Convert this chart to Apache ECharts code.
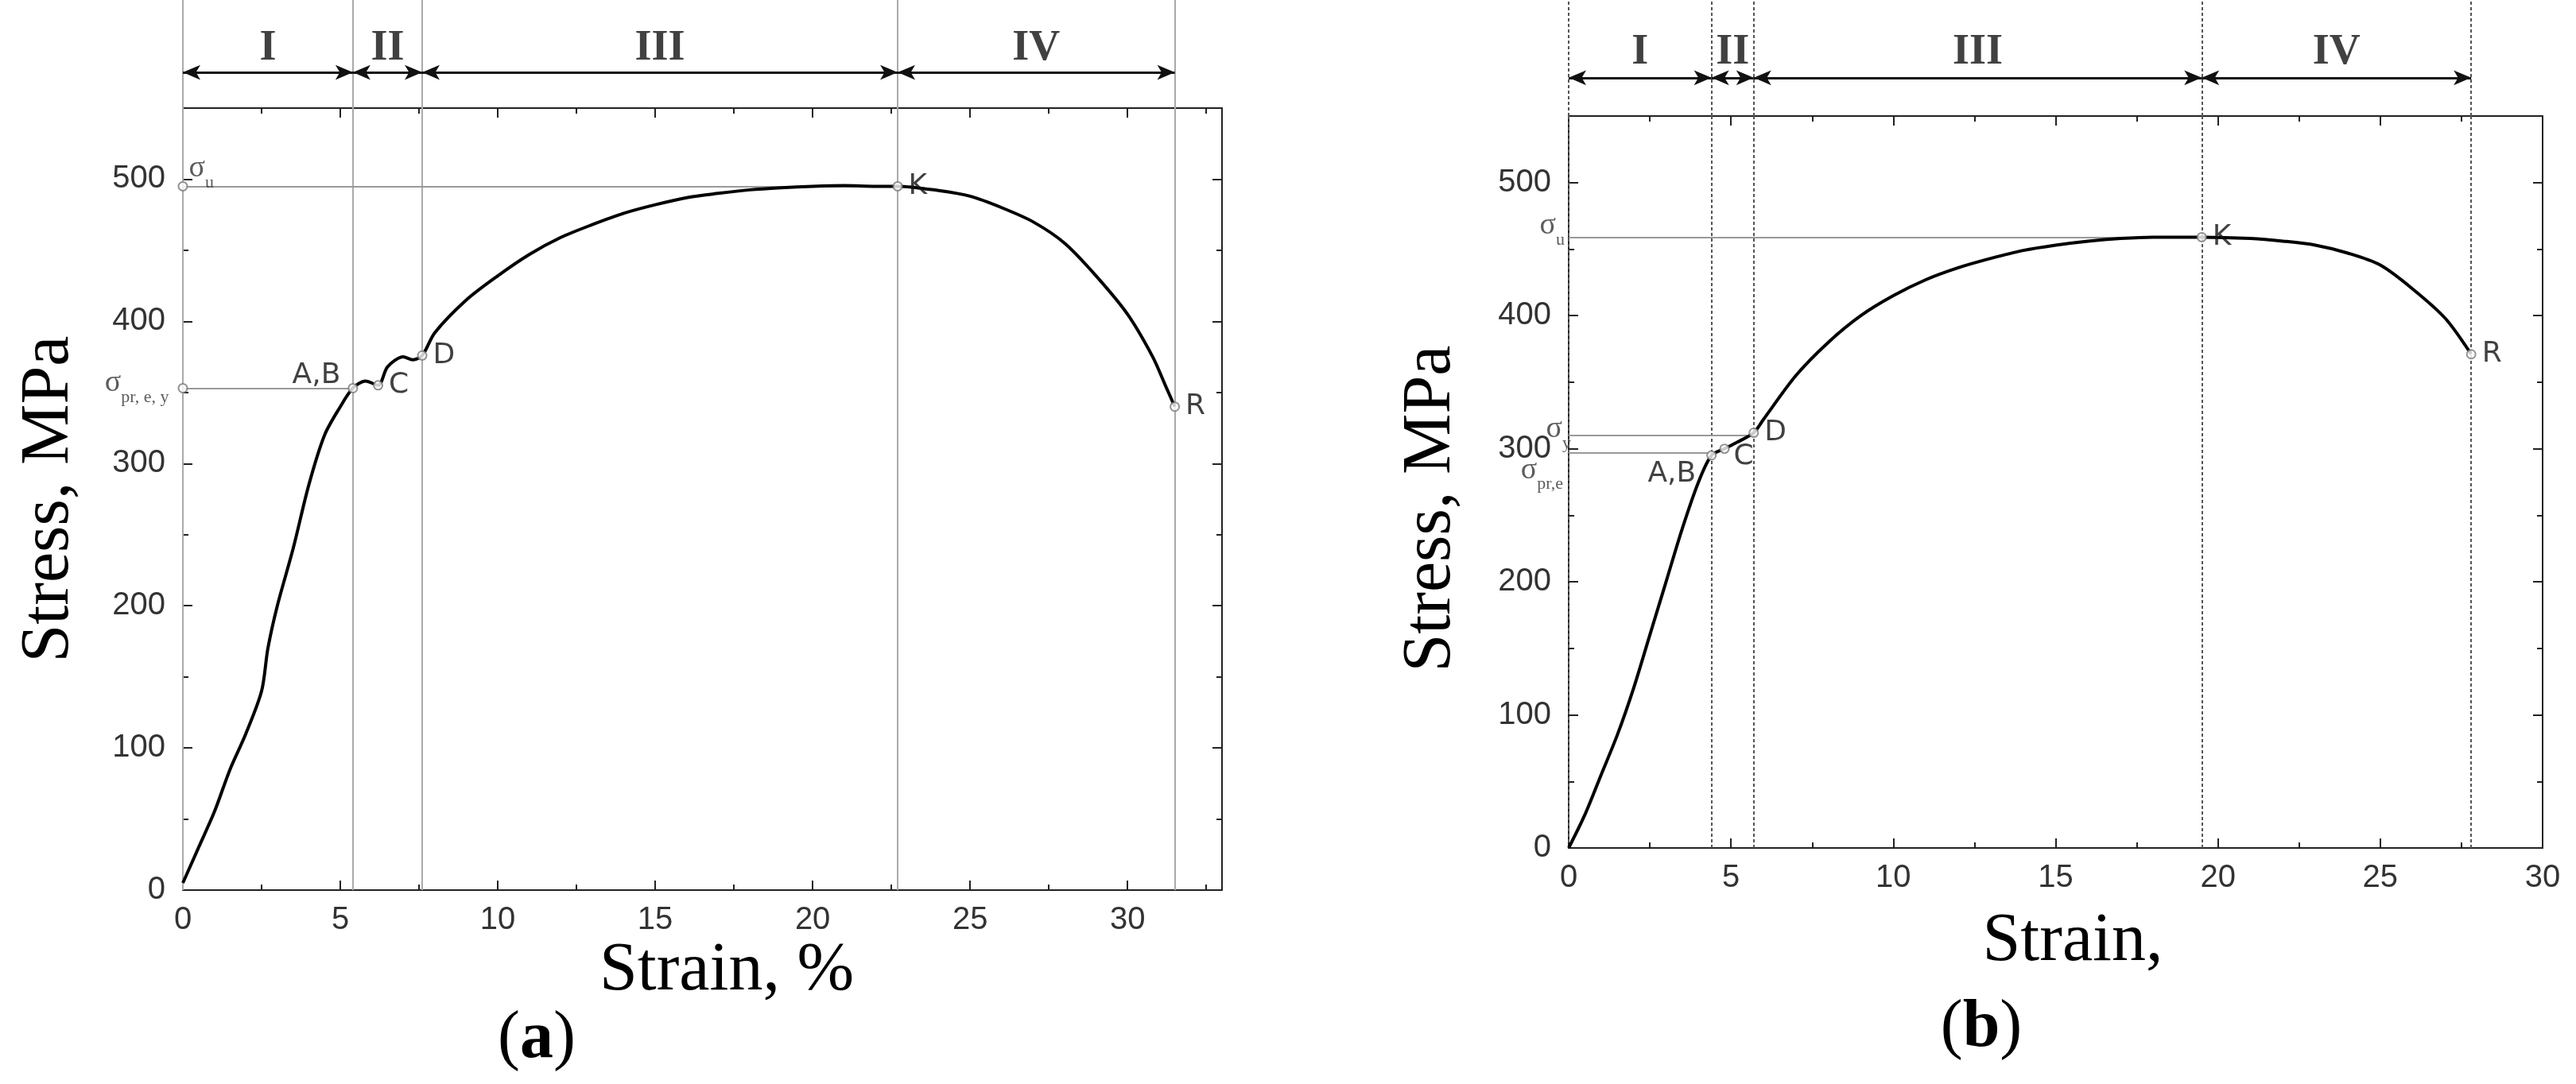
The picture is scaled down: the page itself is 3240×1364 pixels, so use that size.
<!DOCTYPE html>
<html><head><meta charset="utf-8">
<script src="https://cdn.jsdelivr.net/npm/echarts@6/dist/echarts.min.js"></script>
<style>html,body{margin:0;padding:0;background:#fff}#c{width:3240px;height:1364px}</style>
</head><body><div id="c"></div>
<script>
// ---- Data ----
const curveA = [[0,5],[0.5,30],[1,55],[1.5,85],[2,110],[2.5,140],[2.7,170],[3,200],[3.5,240],[4,285],[4.5,320],[5,340],[5.4,353],[5.8,358],[6.2,355],[6.5,368],[7,375],[7.3,373],[7.6,376],[8,392],[9,415],[10,432],[11,447],[12,459],[13,468],[14,476],[15,482],[16,487],[17,490],[18,492.5],[19,494],[20,495],[21,495.5],[22,495],[22.7,495],[24,492],[25,488],[26,480],[27,470],[28,455],[29,432],[30,405],[30.8,375],[31.2,355],[31.5,340]];
const curveB = [[0,0],[0.5,25],[1,55],[1.5,85],[2,120],[2.5,160],[3,200],[3.5,240],[4,275],[4.4,295],[4.8,300],[5.2,305],[5.7,312],[6,322],[7,355],[8,380],[9,400],[10,415],[11,427],[12,436],[13,443],[14,449],[15,453],[16,456],[17,458],[18,459],[19.5,459],[21,458],[22,456],[23,453],[24,447],[25,438],[26,420],[27,398],[27.8,371]];
const boundsA = [0, 5.4, 7.6, 22.7, 31.5];
const boundsB = [0, 4.4, 5.7, 19.5, 27.8];
const stageNames = ['I','II','III','IV'];
const pointsA = [{n:'A,B',x:5.4,y:353},{n:'C',x:6.2,y:355},{n:'D',x:7.6,y:376},{n:'K',x:22.7,y:495},{n:'R',x:31.5,y:340}];
const pointsB = [{n:'A,B',x:4.4,y:295},{n:'C',x:4.8,y:300},{n:'D',x:5.7,y:312},{n:'K',x:19.5,y:459},{n:'R',x:27.8,y:371}];
const levelsA = [{n:'u',x:22.7,y:495},{n:'pr, e, y',x:5.4,y:353}];
const levelsB = [{n:'u',x:19.5,y:459},{n:'y',x:5.7,y:310},{n:'pr,e',x:4.4,y:297}];
const xTicksMaxA = 33, xTicksMaxB = 30, yMax = 550;

const chart = echarts.init(document.getElementById('c'));
const tickFont = {fontFamily:'Liberation Sans', fontSize:40, color:'#333'};
function mainAxes(gi, xmax){
  const line = {onZero:false,lineStyle:{color:'#222',width:2}};
  const common = {min:0, interval:5, axisLine:line, axisTick:{inside:true,length:12,lineStyle:{color:'#222',width:2}}, minorTick:{show:true,splitNumber:2,length:7,lineStyle:{color:'#222',width:2}}, splitLine:{show:false}};
  return {
    x:[{type:'value',gridIndex:gi,max:xmax,position:'bottom',...common,axisLabel:{...tickFont,margin:18,showMaxLabel:xmax%5===0}},
       {type:'value',gridIndex:gi,max:xmax,position:'top',...common,axisLabel:{show:false}}],
    y:[{type:'value',gridIndex:gi,min:0,max:yMax,interval:100,position:'left',axisLine:line,axisTick:common.axisTick,minorTick:common.minorTick,splitLine:{show:false},axisLabel:{...tickFont,margin:22,showMaxLabel:false}},
       {type:'value',gridIndex:gi,min:0,max:yMax,interval:100,position:'right',axisLine:line,axisTick:common.axisTick,minorTick:common.minorTick,splitLine:{show:false},axisLabel:{show:false}}]
  };
}
const mA = mainAxes(0, xTicksMaxA), mB = mainAxes(2, xTicksMaxB);
const hdrX = (gi,xmax)=>({type:'value',gridIndex:gi,min:0,max:xmax,show:false});
const hdrY = gi=>({type:'value',gridIndex:gi,min:0,max:1,show:false});
const xAxis = [mA.x[0], mA.x[1], hdrX(1,xTicksMaxA), mB.x[0], mB.x[1], hdrX(3,xTicksMaxB)];
const yAxis = [mA.y[0], mA.y[1], hdrY(1), mB.y[0], mB.y[1], hdrY(3)];

const rich = {s:{fontFamily:'Liberation Serif',fontSize:38,color:'#333'},sub:{fontFamily:'Liberation Serif',fontSize:22,color:'#333',verticalAlign:'bottom',padding:[0,0,-10,0]}};

function panelSeries(curve,bounds,points,levels,xi,yi,hx,hy,dashed,levelLabelPos){
  const s = [];
  const vType = dashed ? [4,3] : 'solid';
  s.push({type:'line',xAxisIndex:xi,yAxisIndex:yi,data:curve,smooth:0.3,showSymbol:false,lineStyle:{color:'#000',width:4},z:5,
    markLine:{silent:true,symbol:'none',label:{show:false},animation:false,
      data:[...bounds.map(b=>({xAxis:b,lineStyle:{color:dashed?'#555':'#aaa',width:2,type:vType}})),
            ...levels.map(l=>[{coord:[0,l.y],lineStyle:{color:'#999',width:2,type:'solid'}},{coord:[l.x,l.y]}])]}});
  s.push({type:'scatter',xAxisIndex:xi,yAxisIndex:yi,data:points.map(p=>({value:[p.x,p.y],name:p.n})),symbol:'circle',symbolSize:11,
    itemStyle:{color:'#fff',borderColor:'#777',borderWidth:2},z:6,
    label:{show:true,formatter:'{b}',fontFamily:'DejaVu Sans',fontSize:36,color:'#111',position:'right',offset:[2,0]}});
  s.push({type:'scatter',xAxisIndex:xi,yAxisIndex:yi,data:levels.map((l,i)=>({value:[0,l.y],name:l.n,label:levelLabelPos[i]})),symbol:'circle',symbolSize:dashed?0:11,
    itemStyle:{color:'#fff',borderColor:'#777',borderWidth:2},z:6,
    label:{show:true,formatter:p=>'{s|σ}{sub|'+p.name+'}',rich:rich}});
  s.push({type:'line',xAxisIndex:hx,yAxisIndex:hy,data:[],markLine:{silent:true,animation:false,label:{show:false},symbol:'none',
    data:[...bounds.map(b=>({xAxis:b,lineStyle:{color:dashed?'#555':'#aaa',width:2,type:vType}})),
          ...bounds.slice(0,-1).map((b,i)=>[{coord:[b,0.33],symbol:'arrow',symbolSize:[14,22],lineStyle:{color:'#111',width:3,type:'solid'}},{coord:[bounds[i+1],0.33],symbol:'arrow',symbolSize:[14,22]}])]}});
  s.push({type:'scatter',xAxisIndex:hx,yAxisIndex:hy,symbolSize:0,data:stageNames.map((n,i)=>({value:[(bounds[i]+bounds[i+1])/2,0.55],name:n})),
    label:{show:true,formatter:'{b}',position:'inside',fontFamily:'Liberation Serif',fontWeight:'bold',fontSize:54,color:'#111'}});
  return s;
}
const series = [
  ...panelSeries(curveA,boundsA,pointsA,levelsA,0,0,2,2,false,
    [{position:'right',offset:[-4,-22]},{position:'left',offset:[-6,-6]}]),
  ...panelSeries(curveB,boundsB,pointsB,levelsB,3,3,5,5,true,
    [{position:'left',offset:[0,-14]},{position:'left',offset:[8,-8]},{position:'left',offset:[-2,22]}])
];
series[1].data[0].label={position:'left',offset:[-4,-16]};
series[6].data[0].label={position:'left',offset:[-8,24]};
series[6].data[1].label={position:'right',offset:[0,10]};

chart.setOption({
  animation:false,
  grid:[{left:230,right:1703,top:136,bottom:244},{left:230,right:1703,top:0,height:136},
        {left:1973,right:42,top:146,bottom:297},{left:1973,right:42,top:0,height:146}],
  xAxis, yAxis, series,
  graphic:[
    {type:'text',rotation:Math.PI/2,position:[62,628],style:{text:'Stress, MPa',font:'86px "Liberation Serif"',fill:'#000',textAlign:'center',textVerticalAlign:'middle'}},
    {type:'text',position:[914,1222],style:{text:'Strain, %',font:'86px "Liberation Serif"',fill:'#000',textAlign:'center',textVerticalAlign:'middle'}},
    {type:'text',position:[675,1308],style:{text:'({b|a})',rich:{b:{font:'bold 84px "Liberation Serif"',fill:'#000'}},font:'84px "Liberation Serif"',fill:'#000',textAlign:'center',textVerticalAlign:'middle'}},
    {type:'text',rotation:Math.PI/2,position:[1800,640],style:{text:'Stress, MPa',font:'86px "Liberation Serif"',fill:'#000',textAlign:'center',textVerticalAlign:'middle'}},
    {type:'text',position:[2607,1185],style:{text:'Strain,',font:'86px "Liberation Serif"',fill:'#000',textAlign:'center',textVerticalAlign:'middle'}},
    {type:'text',position:[2492,1294],style:{text:'({b|b})',rich:{b:{font:'bold 84px "Liberation Serif"',fill:'#000'}},font:'84px "Liberation Serif"',fill:'#000',textAlign:'center',textVerticalAlign:'middle'}}
  ]
});
</script></body></html>
